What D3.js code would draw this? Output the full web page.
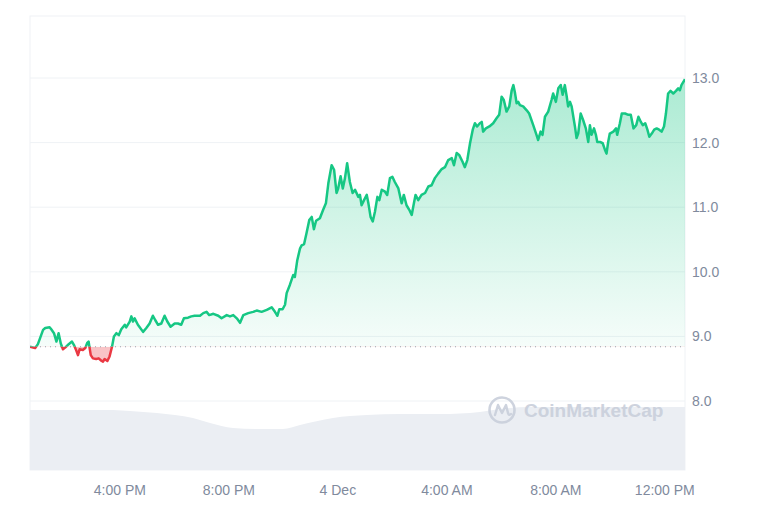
<!DOCTYPE html>
<html>
<head>
<meta charset="utf-8">
<script src="https://cdn.jsdelivr.net/npm/d3@7"></script>
<style>
  body { margin: 0; background: #fff; }
  svg { display: block; font-family: "Liberation Sans", Arial, sans-serif; }
</style>
</head>
<body>
<div id="chart"></div>
<script>
// hours after 12:00 PM, 3 Dec
const hours = [
  0.70,0.89,0.99,1.18,1.26,1.42,1.48,1.58,1.67,1.75,
  1.83,1.91,2.00,2.12,2.24,2.31,2.40,2.46,2.52,2.64,
  2.73,2.80,2.85,2.93,3.01,3.13,3.22,3.30,3.38,3.44,
  3.54,3.62,3.71,3.78,3.87,3.96,4.05,4.18,4.23,4.36,
  4.42,4.48,4.54,4.66,4.85,4.97,5.09,5.21,5.30,5.40,
  5.52,5.64,5.74,5.86,6.01,6.13,6.25,6.35,6.50,6.62,6.74,
  6.94,7.06,7.18,7.28,7.43,7.61,7.73,7.92,8.04,
  8.16,8.29,8.41,8.53,8.71,8.89,9.02,9.20,9.39,9.57,
  9.69,9.78,9.85,9.97,10.06,10.12,10.24,10.36,10.42,10.51,
  10.61,10.67,10.76,10.85,10.95,11.04,11.12,11.20,11.34,11.46,
  11.56,11.65,11.77,11.86,11.95,12.01,12.10,12.18,12.26,12.34,
  12.44,12.54,12.63,12.75,12.81,12.87,12.96,13.06,13.12,13.20,
  13.28,13.36,13.45,13.52,13.61,13.73,13.81,13.91,14.00,14.09,
  14.22,14.34,14.42,14.52,14.62,14.71,14.79,14.85,14.95,15.07,
  15.20,15.32,15.44,15.56,15.68,15.81,15.93,16.05,16.18,16.26,
  16.36,16.45,16.58,16.66,16.75,16.85,16.95,17.03,17.11,17.21,
  17.28,17.33,17.43,17.56,17.70,17.83,17.92,18.01,18.09,18.19,
  18.29,18.38,18.44,18.50,18.56,18.62,18.68,18.80,18.93,19.02,
  19.17,19.29,19.35,19.44,19.51,19.60,19.72,19.84,19.90,20.00,
  20.09,20.18,20.25,20.33,20.40,20.45,20.52,20.58,20.70,20.76,
  20.82,20.91,21.00,21.10,21.19,21.25,21.31,21.40,21.47,21.52,
  21.62,21.72,21.80,21.86,21.92,21.98,22.11,22.21,22.25,22.35,
  22.42,22.54,22.66,22.75,22.85,22.95,23.03,23.12,23.19,23.28,
  23.36,23.43,23.52,23.61,23.70,23.79,23.88,23.97,24.04,24.12,
  24.21,24.31,24.41,24.49,24.55,24.61,24.68,24.74
];
const prices = [
  8.84,8.82,8.88,9.10,9.13,9.14,9.11,9.05,8.92,9.05,
  8.89,8.80,8.83,8.88,8.92,8.87,8.78,8.71,8.80,8.79,
  8.82,8.90,8.92,8.71,8.66,8.65,8.66,8.63,8.61,8.65,
  8.62,8.69,8.84,9.00,9.05,9.02,9.11,9.18,9.14,9.23,
  9.31,9.23,9.28,9.18,9.07,9.13,9.20,9.32,9.25,9.18,
  9.20,9.32,9.23,9.15,9.20,9.20,9.18,9.28,9.29,9.31,9.32,
  9.32,9.36,9.38,9.33,9.35,9.32,9.28,9.33,9.31,
  9.33,9.28,9.21,9.33,9.36,9.38,9.40,9.38,9.41,9.45,
  9.38,9.32,9.42,9.42,9.49,9.67,9.80,9.95,9.92,10.18,
  10.36,10.41,10.43,10.60,10.80,10.85,10.66,10.79,10.83,10.96,
  11.06,11.37,11.65,11.58,11.22,11.29,11.48,11.29,11.45,11.68,
  11.39,11.22,11.27,11.16,11.19,11.03,11.11,11.19,11.06,10.85,
  10.78,10.93,11.16,11.11,11.27,11.24,11.19,11.45,11.47,11.39,
  11.29,11.06,11.19,11.03,10.96,10.88,11.06,11.19,11.11,11.19,
  11.22,11.32,11.34,11.45,11.52,11.59,11.62,11.73,11.76,11.65,
  11.84,11.81,11.70,11.62,11.73,11.99,12.20,12.30,12.25,12.30,
  12.32,12.17,12.22,12.25,12.30,12.38,12.43,12.71,12.66,12.48,
  12.56,12.81,12.89,12.77,12.61,12.63,12.58,12.56,12.50,12.45,
  12.27,12.12,12.04,12.17,12.12,12.40,12.48,12.66,12.76,12.63,
  12.84,12.89,12.74,12.89,12.71,12.56,12.63,12.56,12.25,12.07,
  12.14,12.45,12.35,12.22,12.01,12.27,12.12,12.22,12.12,12.01,
  12.01,11.99,11.89,11.83,12.01,12.14,12.17,12.22,12.12,12.30,
  12.45,12.45,12.43,12.43,12.22,12.27,12.40,12.32,12.27,12.30,
  12.20,12.09,12.14,12.20,12.22,12.20,12.17,12.25,12.45,12.76,
  12.80,12.76,12.80,12.84,12.81,12.89,12.94,12.98
];
// volume (relative units)
const volHours = [0.70,3.75,4.37,5.36,6.02,6.68,7.31,8.15,9.14,9.98,10.61,11.82,13.07,14.28,15.75,17.21,17.95,19.05,24.74];
const volumes  = [8.70,8.70,8.55,8.26,7.97,7.54,6.81,6.09,5.94,5.94,6.52,7.54,7.97,8.12,8.12,8.41,8.84,9.13,9.13];
const yTicks = [8, 9, 10, 11, 12, 13];
const xTickHours = [4, 8, 12, 16, 20, 24];

const width = 768, height = 512;
const plotL = 30, plotR = 685, plotT = 16, plotB = 470;
const green = "#16c784", red = "#ea3943";

const t0 = new Date(2023, 11, 3, 12, 0);
const toDate = h => new Date(t0.getTime() + h * 3600e3);
const data = hours.map((h, i) => ({ t: toDate(h), p: prices[i] }));
const vol = volHours.map((h, i) => ({ t: toDate(h), v: volumes[i] }));
const base = prices[0];

const x = d3.scaleTime().domain(d3.extent(data, d => d.t)).range([plotL, plotR]);
const y = d3.scaleLinear().domain([8, 13]).range([401, 78]);
const vy = d3.scaleLinear().domain([0, 10]).range([plotB, 401]);

const svg = d3.select("#chart").append("svg")
    .attr("width", width)
    .attr("height", height);

const defs = svg.append("defs");
defs.append("clipPath").attr("id", "above")
    .append("rect").attr("x", plotL).attr("y", plotT)
    .attr("width", plotR - plotL).attr("height", y(base) - plotT);
defs.append("clipPath").attr("id", "below")
    .append("rect").attr("x", plotL).attr("y", y(base))
    .attr("width", plotR - plotL).attr("height", plotB - y(base));

const gGreen = defs.append("linearGradient").attr("id", "gGreen")
    .attr("gradientUnits", "userSpaceOnUse")
    .attr("x1", 0).attr("x2", 0).attr("y1", y(13)).attr("y2", y(base));
gGreen.append("stop").attr("offset", "0%").attr("stop-color", green).attr("stop-opacity", 0.36);
gGreen.append("stop").attr("offset", "100%").attr("stop-color", green).attr("stop-opacity", 0.04);

// frame
svg.append("rect")
    .attr("x", plotL).attr("y", plotT)
    .attr("width", plotR - plotL).attr("height", plotB - plotT)
    .attr("fill", "none").attr("stroke", "#eff2f5");

// grid
svg.append("g").selectAll("line").data(yTicks).join("line")
    .attr("x1", plotL).attr("x2", plotR)
    .attr("y1", d => y(d)).attr("y2", d => y(d))
    .attr("stroke", "#eff2f5");

// volume band
svg.append("path")
    .datum(vol)
    .attr("fill", "#ebeef3")
    .attr("d", d3.area()
        .x(d => x(d.t)).y0(plotB).y1(d => vy(d.v))
        .curve(d3.curveMonotoneX));

// watermark
const wm = svg.append("g").attr("transform", "translate(502,410)").attr("opacity", 0.9);
wm.append("circle").attr("r", 12.5).attr("fill", "none")
    .attr("stroke", "#c9cfdb").attr("stroke-width", 2.6);
wm.append("path")
    .attr("d", "M-7,5 L-4,-5 L0,3 L4,-5 L6,3 Q7,6 9,4")
    .attr("fill", "none").attr("stroke", "#c9cfdb")
    .attr("stroke-width", 2.4).attr("stroke-linejoin", "round").attr("stroke-linecap", "round");
wm.append("text")
    .attr("x", 22).attr("dy", "0.35em")
    .attr("font-size", 19).attr("font-weight", 700)
    .attr("fill", "#c9cfdb")
    .text("CoinMarketCap");

// price area + line
const area = d3.area().x(d => x(d.t)).y0(y(base)).y1(d => y(d.p));
const line = d3.line().x(d => x(d.t)).y(d => y(d.p));

svg.append("path").datum(data)
    .attr("clip-path", "url(#above)")
    .attr("fill", "url(#gGreen)").attr("d", area);
svg.append("path").datum(data)
    .attr("clip-path", "url(#below)")
    .attr("fill", red).attr("fill-opacity", 0.3).attr("d", area);

// baseline (open)
svg.append("line")
    .attr("x1", plotL).attr("x2", plotR)
    .attr("y1", y(base)).attr("y2", y(base))
    .attr("stroke", "#9aa1ad").attr("stroke-width", 1.2)
    .attr("stroke-dasharray", "1,4");

svg.append("path").datum(data)
    .attr("clip-path", "url(#above)")
    .attr("fill", "none").attr("stroke", green).attr("stroke-width", 2.5)
    .attr("stroke-linejoin", "round").attr("d", line);
svg.append("path").datum(data)
    .attr("clip-path", "url(#below)")
    .attr("fill", "none").attr("stroke", red).attr("stroke-width", 2.5)
    .attr("stroke-linejoin", "round").attr("d", line);

// y labels
svg.append("g").selectAll("text").data(yTicks).join("text")
    .attr("x", 692).attr("y", d => y(d)).attr("dy", "0.35em")
    .attr("font-size", 14).attr("fill", "#808a9d")
    .text(d => d3.format(".1f")(d));

// x labels
const fmt = d => d.getHours() === 0 ? d3.timeFormat("%-d %b")(d) : d3.timeFormat("%-I:%M %p")(d);
svg.append("g").selectAll("text").data(xTickHours.map(toDate)).join("text")
    .attr("x", d => x(d)).attr("y", 495)
    .attr("text-anchor", "middle")
    .attr("font-size", 14).attr("fill", "#808a9d")
    .text(fmt);
</script>
</body>
</html>
